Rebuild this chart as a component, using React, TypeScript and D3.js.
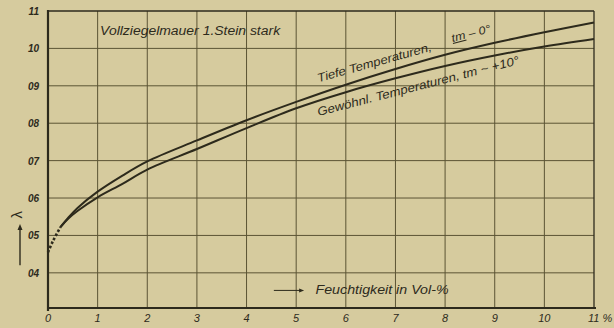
import React from "react";
import * as d3 from "d3";

// moisture in Vol-% (x) vs thermal conductivity lambda (y)
const moisture = [0.25, 0.4, 0.6, 1, 1.5, 2, 3, 4, 5, 6, 7, 8, 9, 10, 11];
const lambdaLow = [0.522, 0.546, 0.574, 0.617, 0.66, 0.698, 0.754, 0.808, 0.857, 0.903, 0.945, 0.983, 1.015, 1.043, 1.069];
const lambdaNormal = [0.522, 0.544, 0.566, 0.602, 0.638, 0.676, 0.731, 0.787, 0.84, 0.883, 0.92, 0.953, 0.981, 1.005, 1.025];

// dotted start, shared by both curves
const startX = [0, 0.1, 0.25];
const startY = [0.455, 0.485, 0.522];

const xTicks = [0, 1, 2, 3, 4, 5, 6, 7, 8, 9, 10, 11];
const xTickLabels = ["0", "1", "2", "3", "4", "5", "6", "7", "8", "9", "10", "11 %"];
const yTicks = [0.4, 0.5, 0.6, 0.7, 0.8, 0.9, 1.0, 1.1];
const yTickLabels = ["04", "05", "06", "07", "08", "09", "10", "11"];

const W = 614;
const H = 328;
const PAPER = "#d6cb9e";
const INK = "#2d2a1c";
const GRID = "#5b5434";
const FONT = "'Liberation Sans', Arial, sans-serif";

export default function App() {
  const x = d3.scaleLinear().domain([0, 11]).range([48, 594]);
  const y = d3.scaleLinear().domain([0.306, 1.1]).range([308, 11]);

  const line = d3
    .line<[number, number]>()
    .x((d) => x(d[0]))
    .y((d) => y(d[1]))
    .curve(d3.curveCatmullRom.alpha(0.5));

  const upper = line(moisture.map((m, i) => [m, lambdaLow[i]]));
  const lower = line(moisture.map((m, i) => [m, lambdaNormal[i]]));
  const start = line(startX.map((m, i) => [m, startY[i]]));

  const upperAt = d3.scaleLinear().domain(moisture).range(lambdaLow);
  const lowerAt = d3.scaleLinear().domain(moisture).range(lambdaNormal);

  const [x0, x1] = x.range();
  const [yb, yt] = y.range();

  return (
    <svg
      width={W}
      height={H}
      style={{ position: "absolute", left: 0, top: 0 }}
      fontFamily={FONT}
      fontStyle="italic"
    >
      <rect width={W} height={H} fill={PAPER} />

      {/* grid */}
      {xTicks.slice(1, -1).map((t) => (
        <line key={"gx" + t} x1={x(t)} x2={x(t)} y1={yt} y2={yb} stroke={GRID} strokeWidth={1} />
      ))}
      {yTicks.slice(0, -1).map((t) => (
        <line key={"gy" + t} x1={x0} x2={x1} y1={y(t)} y2={y(t)} stroke={GRID} strokeWidth={1} />
      ))}

      {/* frame */}
      <line x1={x0} x2={x1} y1={yt} y2={yt} stroke={INK} strokeWidth={1.3} />
      <line x1={x1} x2={x1} y1={yt} y2={yb} stroke={INK} strokeWidth={1.3} />
      <line x1={x0} x2={x0} y1={yt - 1} y2={yb + 3} stroke={INK} strokeWidth={2.2} />
      <line x1={x0} x2={x1 + 2} y1={yb} y2={yb} stroke={INK} strokeWidth={2.2} />

      {/* tick labels */}
      {yTicks.map((t, i) => (
        <text key={"ty" + t} x={x0 - 9} y={y(t) + 4} textAnchor="end" fontSize={10} fontWeight="bold" fill={INK}>
          {yTickLabels[i]}
        </text>
      ))}
      {xTicks.map((t, i) => (
        <text key={"tx" + t} x={x(t)} y={yb + 14} textAnchor={i === xTicks.length - 1 ? "start" : "middle"}
          dx={i === xTicks.length - 1 ? -6 : 0} fontSize={11} fill={INK}>
          {xTickLabels[i]}
        </text>
      ))}

      {/* curves */}
      <path d={start ?? ""} fill="none" stroke={INK} strokeWidth={2.6} strokeDasharray="2.5,2" />
      <path d={upper ?? ""} fill="none" stroke={INK} strokeWidth={2} />
      <path d={lower ?? ""} fill="none" stroke={INK} strokeWidth={2} />

      {/* title */}
      <text x={x(1.05)} y={y(1.05) + 5} fontSize={12} textLength={180} lengthAdjust="spacingAndGlyphs" fill={INK}>
        Vollziegelmauer 1.Stein stark
      </text>

      {/* curve labels */}
      <text transform={`translate(${x(5.45)},${y(upperAt(5.45)) - 12}) rotate(-15.5)`} fontSize={12}
        textLength={118} lengthAdjust="spacingAndGlyphs" fill={INK}>
        Tiefe Temperaturen,
      </text>
      <text transform={`translate(${x(8.15)},${y(upperAt(8.15)) - 11}) rotate(-14.5)`} fontSize={11}
        textLength={40} lengthAdjust="spacingAndGlyphs" fill={INK}>
        <tspan textDecoration="underline">tm</tspan> – 0°
      </text>
      <text transform={`translate(${x(5.45)},${y(lowerAt(5.45)) + 15}) rotate(-14.5)`} fontSize={12}
        textLength={208} lengthAdjust="spacingAndGlyphs" fill={INK}>
        Gewöhnl. Temperaturen, tm ~ +10°
      </text>

      {/* axis titles */}
      <text transform={`translate(${x0 - 26},${y(0.555)}) rotate(-90)`} fontSize={15} fontStyle="normal"
        textAnchor="middle" fill={INK}>
        λ
      </text>
      <line x1={x0 - 28} x2={x0 - 28} y1={y(0.42)} y2={y(0.52)} stroke={INK} strokeWidth={1.4} />
      <path d={`M${x0 - 28},${y(0.52) - 4} l-2.5,6 h5 z`} fill={INK} />

      <line x1={x(4.55)} x2={x(5.1)} y1={y(0.353)} y2={y(0.353)} stroke={INK} strokeWidth={1} />
      <path d={`M${x(5.1) + 3},${y(0.353)} l-5,-2 v4 z`} fill={INK} />
      <text x={x(5.39)} y={y(0.353) + 4} fontSize={12} textLength={133} lengthAdjust="spacingAndGlyphs" fill={INK}>
        Feuchtigkeit in Vol-%
      </text>
    </svg>
  );
}
